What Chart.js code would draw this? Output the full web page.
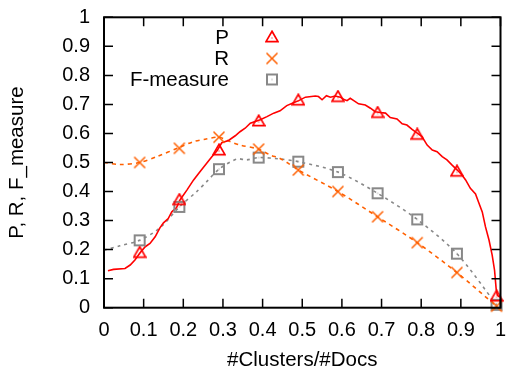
<!DOCTYPE html>
<html>
<head>
<meta charset="utf-8">
<script src="https://cdn.jsdelivr.net/npm/chart.js@4/dist/chart.umd.min.js"></script>
<style>
  html, body { margin: 0; padding: 0; background: #fff; }
  #wrap { width: 507px; height: 370px; }
</style>
</head>
<body>
<div id="wrap"><canvas id="chart" width="507" height="370"></canvas></div>
<script>
// P / R / F-measure vs #Clusters/#Docs

// ----------------- Data ----------------
const markerX = [0.09, 0.19, 0.29, 0.39, 0.49, 0.59, 0.69, 0.79, 0.89, 0.99];
const precision = [0.190, 0.372, 0.543, 0.643, 0.715, 0.727, 0.672, 0.597, 0.470, 0.040];
const recall = [0.500, 0.549, 0.587, 0.546, 0.474, 0.400, 0.313, 0.224, 0.121, 0.005];
const fMeasure = [0.232, 0.347, 0.477, 0.517, 0.503, 0.467, 0.394, 0.304, 0.186, 0.010];

// full precision curve
const precisionCurveX = [0.010, 0.024, 0.053, 0.066, 0.078, 0.091, 0.104, 0.116, 0.129, 0.141,
  0.150, 0.162, 0.171, 0.183, 0.192, 0.209, 0.226, 0.242, 0.259, 0.272, 0.285, 0.297, 0.314,
  0.331, 0.343, 0.356, 0.369, 0.394, 0.411, 0.428, 0.444, 0.461, 0.478, 0.491, 0.508, 0.533,
  0.541, 0.550, 0.561, 0.571, 0.583, 0.596, 0.604, 0.613, 0.621, 0.630, 0.642, 0.659, 0.672,
  0.684, 0.697, 0.710, 0.722, 0.739, 0.752, 0.764, 0.777, 0.790, 0.802, 0.815, 0.828, 0.840,
  0.853, 0.865, 0.878, 0.891, 0.903, 0.912, 0.924, 0.937, 0.945, 0.954, 0.962, 0.971, 0.979,
  0.985, 0.989, 0.992, 0.998];
const precisionCurveY = [0.127, 0.132, 0.135, 0.147, 0.164, 0.189, 0.210, 0.221, 0.244, 0.275,
  0.292, 0.307, 0.330, 0.345, 0.372, 0.405, 0.440, 0.468, 0.497, 0.520, 0.540, 0.568, 0.576,
  0.592, 0.606, 0.618, 0.635, 0.647, 0.658, 0.670, 0.678, 0.696, 0.706, 0.713, 0.725, 0.729,
  0.727, 0.716, 0.730, 0.725, 0.729, 0.725, 0.718, 0.713, 0.721, 0.713, 0.702, 0.698, 0.687,
  0.675, 0.672, 0.670, 0.655, 0.650, 0.633, 0.629, 0.614, 0.601, 0.589, 0.560, 0.543, 0.537,
  0.520, 0.509, 0.491, 0.474, 0.457, 0.440, 0.411, 0.392, 0.362, 0.330, 0.279, 0.233, 0.181,
  0.129, 0.066, 0.043, 0.036];

const recallCurveX = [0, 0.04, 0.09, 0.133, 0.19, 0.226, 0.255, 0.29, 0.318, 0.343, 0.39, 0.419,
  0.444, 0.465, 0.49, 0.59, 0.69, 0.79, 0.89, 0.99];
const recallCurveY = [0.500, 0.493, 0.500, 0.520, 0.552, 0.572, 0.580, 0.587, 0.572, 0.560, 0.546,
  0.526, 0.514, 0.497, 0.474, 0.400, 0.313, 0.224, 0.121, 0.005];

const fCurveX = [0, 0.04, 0.09, 0.141, 0.19, 0.234, 0.259, 0.29, 0.335, 0.36, 0.39, 0.444, 0.49,
  0.59, 0.69, 0.79, 0.89, 0.99];
const fCurveY = [0.198, 0.213, 0.232, 0.275, 0.347, 0.400, 0.434, 0.477, 0.512, 0.509, 0.517,
  0.512, 0.503, 0.467, 0.394, 0.304, 0.186, 0.010];

const xTicks = [0, 0.1, 0.2, 0.3, 0.4, 0.5, 0.6, 0.7, 0.8, 0.9, 1];
const xTickLabels = ["0", "0.1", "0.2", "0.3", "0.4", "0.5", "0.6", "0.7", "0.8", "0.9", "1"];
const yTicks = [0, 0.1, 0.2, 0.3, 0.4, 0.5, 0.6, 0.7, 0.8, 0.9, 1];
const yTickLabels = ["0", "0.1", "0.2", "0.3", "0.4", "0.5", "0.6", "0.7", "0.8", "0.9", "1"];

const seriesNames = ["P", "R", "F-measure"];

// ----------------- Styles ----------------
const FONT = "'Liberation Sans', Arial, Helvetica, sans-serif";
const RED = "#ff0000";
const ORANGE = "#ff6000";
const GRAY = "#888888";

const pairs = (xs, ys) => xs.map((x, i) => ({ x, y: ys[i] }));

function glyph(draw) {
  const c = document.createElement("canvas");
  c.width = 14;
  c.height = 14;
  draw(c.getContext("2d"));
  return c;
}

const triangleIcon = glyph((g) => {
  g.strokeStyle = RED;
  g.lineWidth = 1.7;
  g.beginPath();
  g.moveTo(7, 1.3);
  g.lineTo(13, 11.6);
  g.lineTo(1, 11.6);
  g.closePath();
  g.stroke();
  g.fillStyle = RED;
  g.fillRect(6.5, 7.5, 1, 1);
});

const crossIcon = glyph((g) => {
  g.strokeStyle = ORANGE;
  g.lineWidth = 1.5;
  g.beginPath();
  g.moveTo(1.5, 1.5);
  g.lineTo(12.5, 12.5);
  g.moveTo(12.5, 1.5);
  g.lineTo(1.5, 12.5);
  g.stroke();
});

const squareIcon = glyph((g) => {
  g.strokeStyle = GRAY;
  g.lineWidth = 2;
  g.strokeRect(2, 2, 10, 10);
  g.fillStyle = GRAY;
  g.fillRect(6.5, 6.5, 1, 1);
});

const icons = [triangleIcon, crossIcon, squareIcon];

// ----------------- Frame, inward ticks, key ----------------
const framePlugin = {
  id: "frame",
  afterDraw(chart) {
    const { ctx, chartArea: a, scales } = chart;
    const tl = 9;
    ctx.save();
    ctx.strokeStyle = "#000";
    ctx.lineWidth = 1.5;
    ctx.beginPath();
    xTicks.forEach((v) => {
      const px = scales.x.getPixelForValue(v);
      ctx.moveTo(px, a.bottom);
      ctx.lineTo(px, a.bottom - tl);
      ctx.moveTo(px, a.top);
      ctx.lineTo(px, a.top + tl);
    });
    yTicks.forEach((v) => {
      const py = scales.y.getPixelForValue(v);
      ctx.moveTo(a.left, py);
      ctx.lineTo(a.left + tl, py);
      ctx.moveTo(a.right, py);
      ctx.lineTo(a.right - tl, py);
    });
    ctx.stroke();
    ctx.lineWidth = 2;
    ctx.strokeRect(a.left, a.top, a.right - a.left, a.bottom - a.top);

    // key, top left inside the plot
    ctx.font = "20.5px " + FONT;
    ctx.fillStyle = "#000";
    ctx.textAlign = "right";
    ctx.textBaseline = "middle";
    const keyY = [38, 59.5, 80.5];
    seriesNames.forEach((name, i) => {
      ctx.fillText(name, 229, keyY[i]);
      const ic = icons[i];
      ctx.drawImage(ic, 272 - ic.width / 2, keyY[i] - 1 - ic.height / 2);
    });
    ctx.restore();
  }
};

// fixed axis boxes so the plot frame lands where the original has it
function fixBox(size, key) {
  return (s) => {
    s[key] = size;
    s.paddingLeft = 0;
    s.paddingRight = 0;
    s.paddingTop = 0;
    s.paddingBottom = 0;
  };
}

// ----------------- Chart ----------------
const tickFont = { family: FONT, size: 20 };
const titleFont = { family: FONT, size: 20.5 };

new Chart(document.getElementById("chart"), {
  type: "scatter",
  data: {
    datasets: [
      {
        label: "P curve",
        data: pairs(precisionCurveX, precisionCurveY),
        showLine: true,
        borderColor: RED,
        borderWidth: 1.6,
        pointRadius: 0,
        tension: 0,
        order: 1
      },
      {
        label: "R curve",
        data: pairs(recallCurveX, recallCurveY),
        showLine: true,
        borderColor: ORANGE,
        borderWidth: 1.6,
        borderDash: [4, 4],
        pointRadius: 0,
        tension: 0.3,
        order: 1
      },
      {
        label: "F curve",
        data: pairs(fCurveX, fCurveY),
        showLine: true,
        borderColor: GRAY,
        borderWidth: 1.6,
        borderDash: [3, 4],
        pointRadius: 0,
        tension: 0.3,
        order: 1
      },
      {
        label: seriesNames[0],
        data: pairs(markerX, precision),
        pointStyle: triangleIcon,
        clip: false,
        order: 0
      },
      {
        label: seriesNames[1],
        data: pairs(markerX, recall),
        pointStyle: crossIcon,
        clip: false,
        order: 0
      },
      {
        label: seriesNames[2],
        data: pairs(markerX, fMeasure),
        pointStyle: squareIcon,
        clip: false,
        order: 0
      }
    ]
  },
  options: {
    responsive: false,
    animation: false,
    events: [],
    layout: { padding: { left: 0, right: 6.5, top: 17.3, bottom: 0 } },
    plugins: {
      legend: { display: false },
      tooltip: { enabled: false }
    },
    scales: {
      x: {
        type: "linear",
        min: 0,
        max: 1,
        afterFit: fixBox(62.3, "height"),
        afterBuildTicks: (s) => { s.ticks = xTicks.map((v) => ({ value: v })); },
        grid: { display: false, drawTicks: false },
        border: { display: false },
        ticks: {
          color: "#000",
          font: tickFont,
          padding: 11,
          maxRotation: 0,
          autoSkip: false,
          callback: (v, i) => xTickLabels[i]
        },
        title: {
          display: true,
          text: "#Clusters/#Docs",
          color: "#000",
          font: titleFont,
          padding: { top: 0, bottom: -3 }
        }
      },
      y: {
        type: "linear",
        min: 0,
        max: 1,
        afterFit: fixBox(104, "width"),
        afterBuildTicks: (s) => { s.ticks = yTicks.map((v) => ({ value: v })); },
        grid: { display: false, drawTicks: false },
        border: { display: false },
        ticks: {
          color: "#000",
          font: tickFont,
          padding: 14,
          autoSkip: false,
          callback: (v, i) => yTickLabels[i]
        },
        title: {
          display: true,
          text: "P, R, F_measure",
          color: "#000",
          font: titleFont,
          padding: { top: 5.5, bottom: 0 }
        }
      }
    }
  },
  plugins: [framePlugin]
});
</script>
</body>
</html>
